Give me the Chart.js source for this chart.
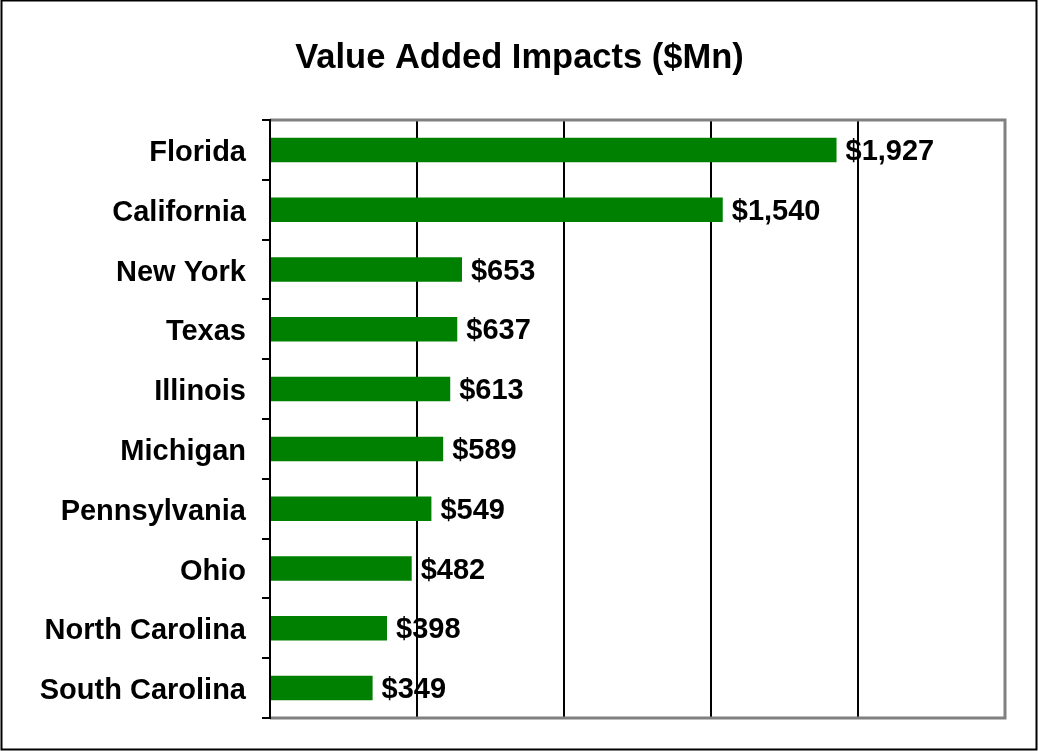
<!DOCTYPE html>
<html>
<head>
<meta charset="utf-8">
<title>Value Added Impacts ($Mn)</title>
<script src="https://cdn.jsdelivr.net/npm/chart.js@4"></script>
<style>
  html, body { margin: 0; padding: 0; background: #fff; }
  #wrap { width: 1039px; height: 751px; position: relative; }
</style>
</head>
<body>
<div id="wrap"><canvas id="chart" width="1039" height="751"></canvas></div>
<script>
// data
const states = ['Florida', 'California', 'New York', 'Texas', 'Illinois',
                'Michigan', 'Pennsylvania', 'Ohio', 'North Carolina', 'South Carolina'];
const valueAdded = [1927, 1540, 653, 637, 613, 589, 549, 482, 398, 349];
const axisMax = 2500;
const axisStep = 500;
const chartTitle = 'Value Added Impacts ($Mn)';

const FONT = '"Liberation Sans", Arial, Helvetica, sans-serif';

// outer frame, title, gray plot frame
const framePlugin = {
    id: 'frames',
    beforeDraw(chart) {
        const ctx = chart.ctx;
        ctx.save();
        ctx.fillStyle = '#fff';
        ctx.fillRect(0, 0, chart.width, chart.height);
        ctx.strokeStyle = '#000';
        ctx.lineWidth = 2;
        ctx.strokeRect(1.5, 0.5, chart.width - 4, chart.height - 2);
        // title centred on the whole picture
        ctx.font = 'bold 34.5px ' + FONT;
        ctx.fillStyle = '#000';
        ctx.textAlign = 'center';
        ctx.textBaseline = 'middle';
        ctx.fillText(chartTitle, chart.width / 2, 58);
        ctx.restore();
    },
    beforeDatasetsDraw(chart) {
        const a = chart.chartArea;
        const ctx = chart.ctx;
        ctx.save();
        ctx.strokeStyle = '#808080';
        ctx.lineWidth = 3;
        ctx.beginPath();
        ctx.moveTo(a.left, a.top);
        ctx.lineTo(a.right, a.top);
        ctx.lineTo(a.right, a.bottom);
        ctx.lineTo(a.left, a.bottom);
        ctx.stroke();
        ctx.strokeStyle = '#000';
        ctx.lineWidth = 2;
        ctx.beginPath();
        ctx.moveTo(a.left, a.top - 1);
        ctx.lineTo(a.left, a.bottom + 1);
        ctx.stroke();
        ctx.restore();
    }
};

// value labels at bar ends
const valueLabels = {
    id: 'valueLabels',
    afterDatasetsDraw(chart) {
        const ctx = chart.ctx;
        const meta = chart.getDatasetMeta(0);
        ctx.save();
        ctx.font = 'bold 29px ' + FONT;
        ctx.fillStyle = '#000';
        ctx.textAlign = 'left';
        ctx.textBaseline = 'middle';
        meta.data.forEach(function(bar, i) {
            const txt = '$' + valueAdded[i].toLocaleString('en-US');
            ctx.fillText(txt, bar.x + 9, bar.y + 2);
        });
        ctx.restore();
    }
};

new Chart(document.getElementById('chart').getContext('2d'), {
    type: 'bar',
    data: {
        labels: states,
        datasets: [{
            data: valueAdded,
            backgroundColor: '#008000',
            borderWidth: 0,
            barPercentage: 0.41,
            categoryPercentage: 1.0
        }]
    },
    options: {
        indexAxis: 'y',
        responsive: false,
        animation: false,
        layout: { padding: { left: 0, right: 34, top: 120, bottom: 33 } },
        plugins: {
            legend: { display: false },
            tooltip: { enabled: false },
            title: { display: false }
        },
        scales: {
            x: {
                min: 0,
                max: axisMax,
                ticks: { display: false, stepSize: axisStep },
                grid: {
                    drawTicks: false,
                    color: function(c) {
                        return (c.tick && c.tick.value === axisMax) ? '#808080' : '#000';
                    },
                    lineWidth: 2
                },
                border: { display: false },
                afterFit(scale) { scale.height = 0; }
            },
            y: {
                ticks: {
                    color: '#000',
                    padding: 16,
                    labelOffset: 3,
                    font: { family: FONT, size: 29, weight: 'bold', lineHeight: 1.0 }
                },
                grid: {
                    drawOnChartArea: false,
                    drawTicks: true,
                    tickLength: 8,
                    color: '#000',
                    lineWidth: 2,
                    offset: true
                },
                border: { display: true, color: '#000', width: 2 },
                afterFit(scale) { scale.width = 270; }
            }
        }
    },
    plugins: [framePlugin, valueLabels]
});
</script>
</body>
</html>
